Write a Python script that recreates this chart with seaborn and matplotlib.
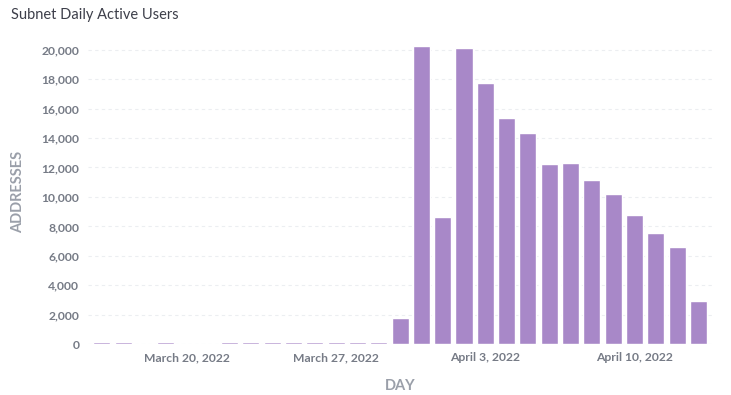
import pandas as pd
import matplotlib.pyplot as plt
import seaborn as sns

# ── Data ──────────────────────────────────────────────────────
dias = pd.date_range('2022-03-16', '2022-04-13', freq='D')
direcciones = [
    130, 130, 20, 130, 20, 20, 130, 130, 130, 130, 130, 130, 130, 130,
    1740, 20230, 8620, 20140, 17730, 15350, 14330, 12220, 12290,
    11130, 10180, 8750, 7530, 6580, 2950,
]
ticks_y = list(range(0, 20001, 2000))
fechas_marcadas = ['2022-03-20', '2022-03-27', '2022-04-03', '2022-04-10']
etiquetas_x = ['March 20, 2022', 'March 27, 2022', 'April 3, 2022', 'April 10, 2022']

df = pd.DataFrame({'day': dias.strftime('%Y-%m-%d'), 'addresses': direcciones})

# ── Figure ────────────────────────────────────────────────────
sns.set_theme(style='white')
plt.rcParams['font.family'] = ['Lato', 'DejaVu Sans']

fig = plt.figure(figsize=(7.31, 3.95), dpi=100)
ax = fig.add_axes([0.120, 0.129, 0.854, 0.771])

sns.barplot(data=df, x='day', y='addresses', color='#a888c8',
            saturation=1, width=0.8, ax=ax)

ax.set_xlim(-0.66, 28.64)
ax.set_ylim(0, 20700)
ax.set_yticks(ticks_y)
ax.set_yticklabels([f'{v:,}' for v in ticks_y])
pos = [list(df['day']).index(f) for f in fechas_marcadas]
ax.set_xticks(pos)
ax.set_xticklabels(etiquetas_x)

ax.grid(axis='y', color='#eceef1', linestyle=(0, (3, 3)), linewidth=0.8)
ax.set_axisbelow(True)
for s in ax.spines.values():
    s.set_visible(False)

ax.tick_params(axis='both', length=0, labelsize=8.7, labelcolor='#767b86', pad=6)
for lbl in ax.get_xticklabels() + ax.get_yticklabels():
    lbl.set_fontweight('bold')

ax.set_xlabel('DAY', fontsize=10.5, color='#9a9fa9', fontweight='bold', labelpad=11)
ax.set_ylabel('ADDRESSES', fontsize=10.5, color='#9a9fa9', fontweight='bold', labelpad=12)

fig.text(0.015, 0.962, 'Subnet Daily Active Users', fontsize=10.5,
         color='#3d3f4a', ha='left', va='center')

plt.savefig('out.png', dpi=100)
